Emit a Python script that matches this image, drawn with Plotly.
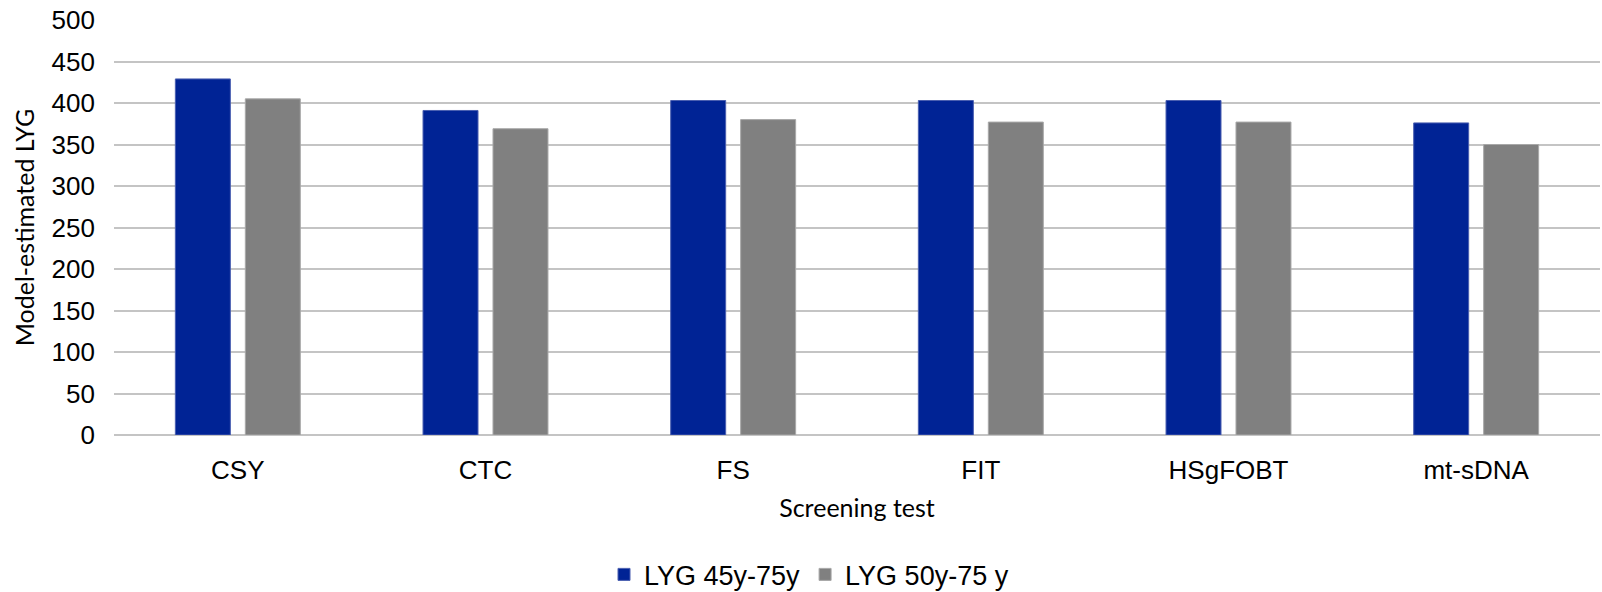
import plotly.graph_objects as go

# Screening tests and model-estimated life-years gained (LYG)
tests = ["CSY", "CTC", "FS", "FIT", "HSgFOBT", "mt-sDNA"]
lyg_45_75 = [429, 391, 403, 403, 403, 376]
lyg_50_75 = [405, 369, 380, 377, 377, 350]
y_ticks = [0, 50, 100, 150, 200, 250, 300, 350, 400, 450, 500]

tick_font = dict(family="Liberation Sans, Arial, sans-serif", size=26, color="#000000")
title_font = dict(family="Lato, Open Sans, sans-serif", size=25, color="#000000")

fig = go.Figure()
fig.add_trace(go.Bar(
    x=tests, y=lyg_45_75, name="LYG 45y-75y",
    marker=dict(color="#002395", line=dict(color="#4a5fb0", width=1)),
))
fig.add_trace(go.Bar(
    x=tests, y=lyg_50_75, name="LYG 50y-75 y",
    marker=dict(color="#808080", line=dict(color="#a8a8a8", width=1)),
))

fig.update_layout(
    width=1602, height=592,
    margin=dict(l=114, r=2, t=20, b=157),
    paper_bgcolor="white", plot_bgcolor="white",
    barmode="group", bargap=0.435, bargroupgap=0.214,
    showlegend=True,
    legend=dict(
        orientation="h", xref="container", yref="container",
        x=0.505, xanchor="center", y=0.029, yanchor="middle",
        font=dict(family="Liberation Sans, Arial, sans-serif", size=27, color="#000000"),
        itemwidth=30, traceorder="normal",
    ),
)

fig.update_xaxes(
    tickfont=tick_font, ticks="", showgrid=False, showline=False,
    ticklabelstandoff=17,
    title=dict(text="Screening test", font=title_font, standoff=15),
)
fig.update_yaxes(
    range=[0, 500], tickvals=y_ticks, tickfont=tick_font, ticks="",
    showgrid=True, gridcolor="#c4c4c4", gridwidth=2,
    zeroline=True, zerolinecolor="#c4c4c4", zerolinewidth=2,
    ticklabelstandoff=18,
    title=dict(text="Model-estimated LYG", font=title_font, standoff=9),
)

fig.write_html("out.html")
